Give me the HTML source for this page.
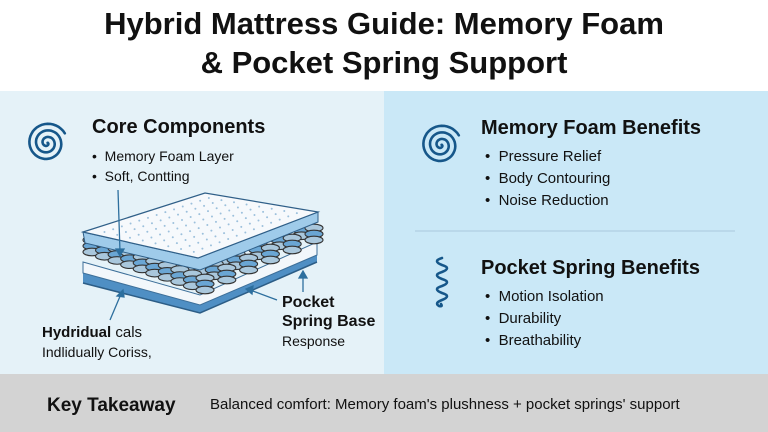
<!DOCTYPE html>
<html><head><meta charset="utf-8"><style>
body{margin:0;width:768px;height:432px;overflow:hidden;background:#fff;font-family:"Liberation Sans",sans-serif;position:relative}
.a{position:absolute;white-space:nowrap;color:#111;line-height:1}
.b{font-weight:bold}
</style></head><body>
<div class="a b" style="left:0;width:768px;text-align:center;top:8px;font-size:31px;">Hybrid Mattress Guide: Memory Foam</div>
<div class="a b" style="left:0;width:768px;text-align:center;top:47px;font-size:31px;">&amp; Pocket Spring Support</div>
<div style="position:absolute;left:0;top:91px;width:384px;height:283px;background:#e5f2f8"></div>
<div style="position:absolute;left:384px;top:91px;width:384px;height:283px;background:#cae8f7"></div>
<div style="position:absolute;left:0;top:374px;width:768px;height:58px;background:#d3d3d3"></div>
<svg style="position:absolute;left:0;top:0" width="768" height="432">
<g fill="none" stroke="#16578a" stroke-width="2.6" stroke-linecap="round">
<polyline id="sp1"/>
<polyline id="sp2"/>
<path d="M442 258 q-10 3 0 7 q10 3 0 7 q-10 3 0 7 q10 3 0 7 q-10 3 0 7 q10 3 0 7 q-8 3 -3 6 q4 1 2 -2"/>
</g>
<line x1="415" y1="231" x2="735" y2="231" stroke="#a9c9dc" stroke-width="1"/>
<polygon points="83,273 200,305 317,255 317,262 200,313 83,283" fill="#4f8fc4"/>
<polygon points="83,262 200,295 317,242 317,255 200,305 83,273" fill="#f2f7fb" stroke="#3d6f99" stroke-width="1"/>
<polyline points="83,283 200,313 317,262" fill="none" stroke="#2c5d86" stroke-width="1.5"/>
<g id="springs"></g>
<polygon points="83,232 198,258 318,212 318,222 200,270 85,243" fill="#9fcbea" stroke="#2f5f88" stroke-width="1"/>
<polygon points="83,232 205,193 318,212 198,258" fill="#f6f9fc" stroke="#2f5f88" stroke-width="1.2"/>
<g fill="#9cc0dc" id="dots"></g>
<g stroke="#2d6f9e" stroke-width="1.3" fill="#2d6f9e">
<line x1="118" y1="190" x2="120" y2="252"/><polygon points="116,249 124,249 120,256"/>
<line x1="110" y1="320" x2="121" y2="294"/><polygon points="117,296 124,297 123,290"/>
<line x1="277" y1="300" x2="250" y2="290"/><polygon points="253,286 252,294 246,289"/>
<line x1="303" y1="292" x2="303" y2="276"/><polygon points="299,278 307,278 303,271"/>
</g>
</svg>
<div class="a b" style="left:92px;top:117px;font-size:20px">Core Components</div>
<div class="a" style="left:92px;top:149px;font-size:14px">•&nbsp; Memory Foam Layer</div>
<div class="a" style="left:92px;top:169px;font-size:14px">•&nbsp; Soft, Contting</div>
<div class="a" style="left:42px;top:325px;font-size:15px"><b>Hydridual</b> cals</div>
<div class="a" style="left:42px;top:345px;font-size:14px">Indlidually Coriss,</div>
<div class="a b" style="left:282px;top:295px;font-size:16px">Pocket</div>
<div class="a b" style="left:282px;top:314px;font-size:16px">Spring Base</div>
<div class="a" style="left:282px;top:334px;font-size:14px">Response</div>
<div class="a b" style="left:481px;top:118px;font-size:20px">Memory Foam Benefits</div>
<div class="a" style="left:485px;top:149px;font-size:15px">•&nbsp; Pressure Relief</div>
<div class="a" style="left:485px;top:171px;font-size:15px">•&nbsp; Body Contouring</div>
<div class="a" style="left:485px;top:193px;font-size:15px">•&nbsp; Noise Reduction</div>
<div class="a b" style="left:481px;top:258px;font-size:20px">Pocket Spring Benefits</div>
<div class="a" style="left:485px;top:289px;font-size:15px">•&nbsp; Motion Isolation</div>
<div class="a" style="left:485px;top:311px;font-size:15px">•&nbsp; Durability</div>
<div class="a" style="left:485px;top:333px;font-size:15px">•&nbsp; Breathability</div>
<div class="a b" style="left:47px;top:396px;font-size:19px">Key Takeaway</div>
<div class="a" style="left:210px;top:397px;font-size:15px">Balanced comfort: Memory foam's plushness + pocket springs' support</div>
<script>
var ns="http://www.w3.org/2000/svg",g=document.getElementById("springs");
function spiral(id,cx,cy){var p=[];for(var t=0.6;t<=3.1*Math.PI*2;t+=0.15){var r=1.05*t;
 var ang=-1.0+t; p.push((cx+r*Math.cos(ang)).toFixed(1)+","+(cy+r*Math.sin(ang)).toFixed(1));}
 document.getElementById(id).setAttribute("points",p.join(" "));}
spiral("sp1",47,143);spiral("sp2",441,145);
var L=[92,250],F=[205,288],R=[314,238];
for(var b=5;b>=0;b--)for(var a=0;a<=9;a++){
 if(!(b<=2||a>=8))continue;
 var x=L[0]+a/9*(F[0]-L[0])+b/5*(R[0]-F[0]), y=L[1]+a/9*(F[1]-L[1])+b/5*(R[1]-F[1]);
 for(var k=0;k<3;k++){var e=document.createElementNS(ns,"ellipse");
 e.setAttribute("cx",x);e.setAttribute("cy",y-10+k*6);e.setAttribute("rx",9);e.setAttribute("ry",3.8);
 e.setAttribute("fill",k==1?"#6aa6d4":"#a9c7dc");e.setAttribute("stroke","#333");e.setAttribute("stroke-width","1.1");g.appendChild(e);}
}
var d=document.getElementById("dots");
var A=[83,232],B=[205,193],C=[318,212],D=[198,258];
for(var i=1;i<14;i++)for(var j=1;j<9;j++){var u=i/14,v=j/9;
 var px=(1-u)*(1-v)*A[0]+u*(1-v)*B[0]+u*v*C[0]+(1-u)*v*D[0];
 var py=(1-u)*(1-v)*A[1]+u*(1-v)*B[1]+u*v*C[1]+(1-u)*v*D[1];
 var c=document.createElementNS(ns,"circle");c.setAttribute("cx",px);c.setAttribute("cy",py);c.setAttribute("r",1);d.appendChild(c);}
</script>
</body></html>
